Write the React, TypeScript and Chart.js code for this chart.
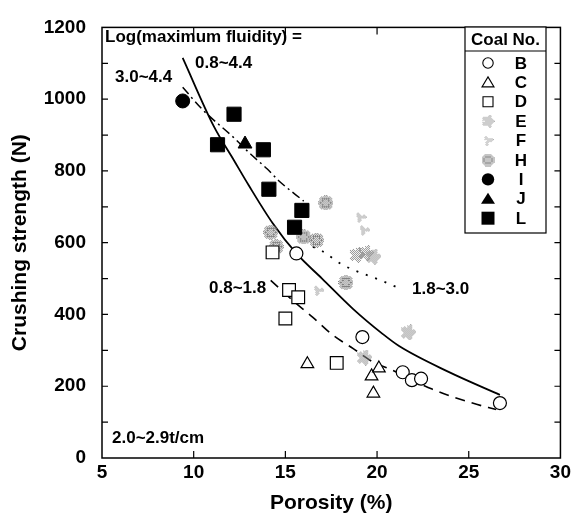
import React, { useEffect, useRef } from 'react';
import { Chart, registerables } from 'chart.js';
Chart.register(...registerables);

const FONT = '"Liberation Sans", Arial, Helvetica, sans-serif';

// ---- data ----
const xTicks = [5, 10, 15, 20, 25, 30];
const yTicks = [0, 200, 400, 600, 800, 1000, 1200];

const coalB_x = [15.6, 19.2, 21.4, 21.9, 22.4, 26.7];
const coalB_y = [570, 337, 239, 217, 221, 153];
const coalC_x = [16.2, 19.7, 19.8, 20.1];
const coalC_y = [262, 228, 180, 250];
const coalD_x = [14.3, 15.2, 15.7, 15.0, 17.8];
const coalD_y = [573, 468, 448, 389, 265];
const coalE_x = [18.9, 19.4, 19.8, 21.7, 19.3];
const coalE_y = [566, 571, 561, 350, 280];
const coalF_x = [19.1, 19.3, 16.8];
const coalF_y = [670, 634, 466];
const coalH_x = [17.2, 14.2, 14.5, 16.0, 16.7, 18.3];
const coalH_y = [711, 629, 589, 616, 607, 489];
const coalI_x = [9.4];
const coalI_y = [995];
const coalJ_x = [12.8];
const coalJ_y = [875];
const coalL_x = [11.3, 12.2, 13.8, 14.1, 15.9, 15.5];
const coalL_y = [873, 958, 859, 749, 690, 643];

// fitted curves
const fitAll_x = [9.4, 11.1, 12.2, 13.0, 14.3, 15.6, 17.0, 18.7, 20.3, 21.2, 23.9, 26.7];
const fitAll_y = [1115, 924, 829, 760, 655, 570, 500, 415, 346, 312, 240, 176];
const fitHigh_x = [9.4, 10.5, 12.2, 13.1, 14.0, 14.7, 16.0];
const fitHigh_y = [1033, 970, 892, 847, 806, 770, 716];
const fitMid_x = [16.5, 17.0, 18.1, 20.3, 21.3];
const fitMid_y = [588, 577, 539, 493, 471];
const fitLow_x = [14.2, 15.6, 16.5, 17.6, 18.7, 19.8, 20.7, 23.0, 25.2, 26.5];
const fitLow_y = [495, 430, 392, 342, 305, 267, 248, 192, 153, 135];

const legendLabels = ['B', 'C', 'D', 'E', 'F', 'H', 'I', 'J', 'L'];

const pts = (xs: number[], ys: number[]) => xs.map((x, i) => ({ x, y: ys[i] }));

function stipple(kind: 'E' | 'F' | 'H', size: number, color: string): HTMLCanvasElement {
  const c = document.createElement('canvas');
  c.width = size;
  c.height = size;
  const ctx = c.getContext('2d')!;
  ctx.fillStyle = color;
  const r = size / 2;
  for (let i = 0; i < size; i++) {
    for (let j = 0; j < size; j++) {
      const dx = i + 0.5 - r;
      const dy = j + 0.5 - r;
      const d = Math.hypot(dx, dy);
      const th = Math.atan2(dy, dx);
      let on = false;
      if (kind === 'H') {
        on = d < r && ((i + j) % 2 === 0 || (Math.abs(d - r * 0.55) < 1 && i % 2 === 0));
      } else if (kind === 'E') {
        const rr = r * (0.6 + 0.4 * Math.abs(Math.cos(2.5 * th)));
        on = d < rr && (i + j) % 2 === 0;
      } else {
        const rr = r * (0.65 + 0.35 * Math.cos(3 * th + 0.5));
        on = d < rr && (i + j) % 2 === 0;
      }
      if (on) ctx.fillRect(i, j, 1, 1);
    }
  }
  return c;
}

export default function App() {
  const ref = useRef<HTMLCanvasElement>(null);

  useEffect(() => {
    document.body.style.margin = '0';
    const canvas = ref.current!;
    const imgE = stipple('E', 16, '#8f8f8f');
    const imgF = stipple('F', 12, '#9a9a9a');
    const imgH = stipple('H', 15, '#7f7f7f');
    const legE = stipple('E', 13, '#9a9a9a');
    const legF = stipple('F', 11, '#a5a5a5');
    const legH = stipple('H', 13, '#8a8a8a');

    const open = { backgroundColor: '#ffffff', borderColor: '#000000', borderWidth: 1.2 };
    const filled = { backgroundColor: '#000000', borderColor: '#000000', borderWidth: 1 };

    const frame = {
      id: 'frame',
      afterDraw(chart: any) {
        const ctx = chart.ctx as CanvasRenderingContext2D;
        const { left, right, top, bottom } = chart.chartArea;
        const xs = chart.scales.x;
        const ys = chart.scales.y;
        ctx.save();
        ctx.strokeStyle = '#000';
        ctx.lineWidth = 1.5;
        ctx.strokeRect(left, top, right - left, bottom - top);
        ctx.lineWidth = 1.2;
        ctx.beginPath();
        for (const v of xTicks) {
          const px = xs.getPixelForValue(v);
          if (px <= left + 1 || px >= right - 1) continue;
          ctx.moveTo(px, bottom);
          ctx.lineTo(px, bottom - 7);
          ctx.moveTo(px, top);
          ctx.lineTo(px, top + 7);
        }
        for (let v = 100; v < 1200; v += 100) {
          const py = ys.getPixelForValue(v);
          ctx.moveTo(left, py);
          ctx.lineTo(left + 6, py);
          ctx.moveTo(right, py);
          ctx.lineTo(right - 6, py);
        }
        ctx.stroke();

        // annotations
        ctx.fillStyle = '#000';
        ctx.font = `bold 17px ${FONT}`;
        ctx.textAlign = 'left';
        ctx.textBaseline = 'middle';
        ctx.fillText('Log(maximum fluidity) =', 105, 37);
        ctx.fillText('0.8~4.4', 195, 63);
        ctx.fillText('3.0~4.4', 115, 77);
        ctx.fillText('0.8~1.8', 209, 288);
        ctx.fillText('1.8~3.0', 412, 289);
        ctx.fillText('2.0~2.9t/cm', 112, 438);

        // legend
        const bx = 465, by = 27, bw = 81, bh = 206;
        ctx.fillStyle = '#fff';
        ctx.fillRect(bx, by, bw, bh);
        ctx.lineWidth = 1.2;
        ctx.strokeRect(bx, by, bw, bh);
        ctx.beginPath();
        ctx.moveTo(bx, 51);
        ctx.lineTo(bx + bw, 51);
        ctx.stroke();
        ctx.fillStyle = '#000';
        ctx.textAlign = 'center';
        ctx.fillText('Coal No.', bx + bw / 2, 40);
        const mx = 488, lx = 521;
        legendLabels.forEach((lab, k) => {
          const y = 63 + k * 19.4;
          ctx.fillStyle = '#000';
          ctx.fillText(lab, lx, y + 1);
          ctx.lineWidth = 1.1;
          ctx.beginPath();
          if (lab === 'B') {
            ctx.arc(mx, y, 5.2, 0, Math.PI * 2);
            ctx.stroke();
          } else if (lab === 'C') {
            ctx.moveTo(mx, y - 5.5); ctx.lineTo(mx + 6, y + 4.5); ctx.lineTo(mx - 6, y + 4.5); ctx.closePath();
            ctx.stroke();
          } else if (lab === 'D') {
            ctx.rect(mx - 5, y - 5, 10, 10);
            ctx.stroke();
          } else if (lab === 'E') {
            ctx.drawImage(legE, mx - 6.5, y - 6.5);
          } else if (lab === 'F') {
            ctx.drawImage(legF, mx - 5.5, y - 5.5);
          } else if (lab === 'H') {
            ctx.drawImage(legH, mx - 6.5, y - 6.5);
          } else if (lab === 'I') {
            ctx.arc(mx, y, 6.2, 0, Math.PI * 2);
            ctx.fill();
          } else if (lab === 'J') {
            ctx.moveTo(mx, y - 6); ctx.lineTo(mx + 7, y + 5); ctx.lineTo(mx - 7, y + 5); ctx.closePath();
            ctx.fill();
          } else if (lab === 'L') {
            ctx.rect(mx - 6.5, y - 6.5, 13, 13);
            ctx.fill();
          }
        });
        ctx.restore();
      },
    };

    const lineDs = (xs: number[], ys: number[], dash: number[], w: number) => ({
      data: pts(xs, ys),
      showLine: true,
      borderColor: '#000',
      backgroundColor: '#000',
      borderWidth: w,
      borderDash: dash,
      pointRadius: 0,
      cubicInterpolationMode: 'monotone' as const,
      order: 10,
    });

    const chart = new Chart(canvas, {
      type: 'scatter',
      data: {
        datasets: [
          { label: 'B', data: pts(coalB_x, coalB_y), pointStyle: 'circle', pointRadius: 6.5, ...open, order: 1 },
          { label: 'C', data: pts(coalC_x, coalC_y), pointStyle: 'triangle', pointRadius: 7.3, ...open, order: 1 },
          { label: 'D', data: pts(coalD_x, coalD_y), pointStyle: 'rect', pointRadius: 9, ...open, order: 1 },
          { label: 'E', data: pts(coalE_x, coalE_y), pointStyle: imgE as any, order: 2 },
          { label: 'F', data: pts(coalF_x, coalF_y), pointStyle: imgF as any, order: 2 },
          { label: 'H', data: pts(coalH_x, coalH_y), pointStyle: imgH as any, order: 2 },
          { label: 'I', data: pts(coalI_x, coalI_y), pointStyle: 'circle', pointRadius: 7, ...filled, order: 1 },
          { label: 'J', data: pts(coalJ_x, coalJ_y), pointStyle: 'triangle', pointRadius: 8, ...filled, order: 1 },
          { label: 'L', data: pts(coalL_x, coalL_y), pointStyle: 'rect', pointRadius: 10, ...filled, order: 1 },
          lineDs(fitAll_x, fitAll_y, [], 1.8),
          lineDs(fitHigh_x, fitHigh_y, [9, 4, 2, 4], 1.5),
          lineDs(fitMid_x, fitMid_y, [2, 8], 1.8),
          lineDs(fitLow_x, fitLow_y, [10, 7], 1.6),
        ] as any,
      },
      options: {
        responsive: false,
        animation: false,
        devicePixelRatio: 1,
        layout: { padding: { top: 17, right: 12, left: 0, bottom: 0 } },
        plugins: { legend: { display: false }, tooltip: { enabled: false } },
        scales: {
          x: {
            type: 'linear',
            min: 5,
            max: 30,
            afterFit: (s: any) => { s.height = 61; },
            grid: { display: false, drawTicks: false },
            border: { display: false },
            ticks: {
              stepSize: 5,
              autoSkip: false,
              padding: 3,
              color: '#000',
              font: { family: FONT, size: 19, weight: 'bold' },
            },
            title: {
              display: true,
              text: 'Porosity (%)',
              color: '#000',
              font: { family: FONT, size: 21, weight: 'bold' },
              padding: { top: 0, bottom: 3 },
            },
          },
          y: {
            type: 'linear',
            min: 0,
            max: 1200,
            afterFit: (s: any) => { s.width = 102; },
            grid: { display: false, drawTicks: false },
            border: { display: false },
            ticks: {
              stepSize: 100,
              autoSkip: false,
              padding: 16,
              color: '#000',
              font: { family: FONT, size: 19, weight: 'bold' },
              callback: (v: any) => (yTicks.includes(Number(v)) ? String(v) : ''),
            },
            title: {
              display: true,
              text: 'Crushing strength (N)',
              color: '#000',
              font: { family: FONT, size: 21, weight: 'bold' },
              padding: { top: 8, bottom: 0 },
            },
          },
        },
      },
      plugins: [frame],
    });
    return () => chart.destroy();
  }, []);

  return (
    <div style={{ width: 574, height: 519 }}>
      <canvas ref={ref} width={574} height={519} style={{ display: 'block' }} />
    </div>
  );
}
